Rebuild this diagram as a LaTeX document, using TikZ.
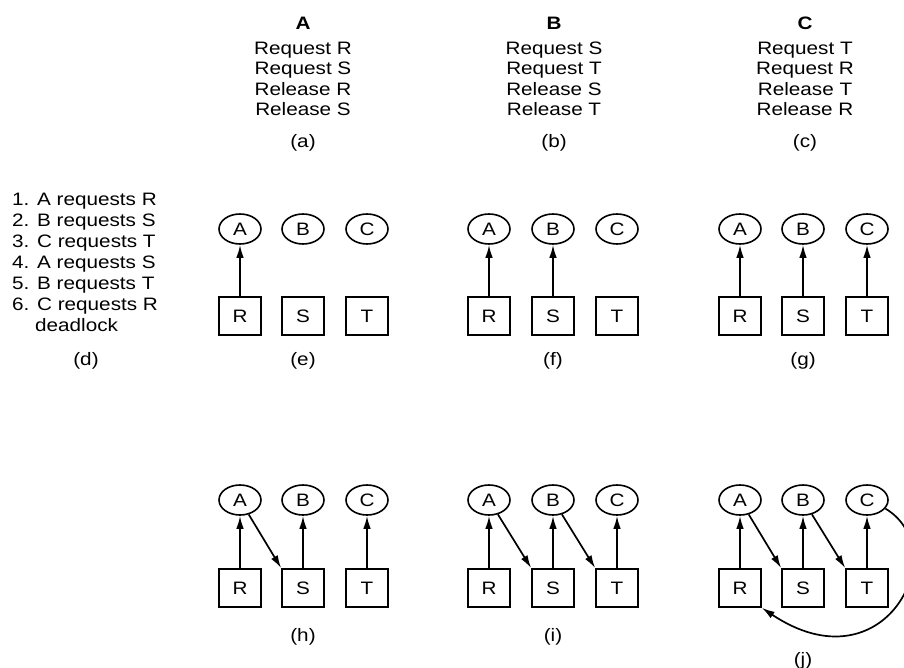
\documentclass[tikz,border=0pt]{standalone}
\usepackage{fontspec}
\setmainfont{Liberation Sans}[FakeStretch=1.15]
\usetikzlibrary{arrows.meta,shapes.geometric}

\begin{document}
\begin{tikzpicture}[x=1pt,y=1pt,
  every node/.style={font=\fontsize{18}{21}\selectfont},
  proc/.style={draw,ellipse,line width=1.6pt,minimum width=42pt,minimum height=30pt,inner sep=0pt},
  res/.style={draw,rectangle,line width=1.6pt,minimum width=42pt,minimum height=38pt,inner sep=0pt},
  txt/.style={anchor=base,inner sep=0pt},
  lst/.style={anchor=base west,inner sep=0pt},
  req/.style={-{Latex[length=13pt,width=7.5pt]},line width=1.7pt}]
\useasboundingbox (0,0) rectangle (904,-668);
% the three processes
\node[txt] (tA) at (303,-29.5) {\bfseries A};
\node[txt] (a1) at (303,-54.5) {Request R};
\node[txt] (a2) at (303,-75) {Request S};
\node[txt] (a3) at (303,-95.5) {Release R};
\node[txt] (a4) at (303,-116) {Release S};
\node[txt] (la) at (303,-148) {(a)};
\node[txt] (tB) at (554,-29.5) {\bfseries B};
\node[txt] (b1) at (554,-54.5) {Request S};
\node[txt] (b2) at (554,-75) {Request T};
\node[txt] (b3) at (554,-95.5) {Release S};
\node[txt] (b4) at (554,-116) {Release T};
\node[txt] (lb) at (554,-148) {(b)};
\node[txt] (tC) at (805,-29.5) {\bfseries C};
\node[txt] (c1) at (805,-54.5) {Request T};
\node[txt] (c2) at (805,-75) {Request R};
\node[txt] (c3) at (805,-95.5) {Release T};
\node[txt] (c4) at (805,-116) {Release R};
\node[txt] (lc) at (805,-148) {(c)};
% order of requests
\node[lst] (d1) at (12,-205.5) {1. A requests R};
\node[lst] (d2) at (12,-226.5) {2. B requests S};
\node[lst] (d3) at (12,-247.5) {3. C requests T};
\node[lst] (d4) at (12,-268.5) {4. A requests S};
\node[lst] (d5) at (12,-289.5) {5. B requests T};
\node[lst] (d6) at (12,-310) {6. C requests R};
\node[lst] (d7) at (35,-331.5) {deadlock};
\node[txt] (ld) at (86,-365) {(d)};
% (e)
\node[proc] (eA) at (240,-229) {A};
\node[proc] (eB) at (303,-229) {B};
\node[proc] (eC) at (367,-229) {C};
\node[res] (eR) at (240,-316) {R};
\node[res] (eS) at (303,-316) {S};
\node[res] (eT) at (367,-316) {T};
\node[txt] (le) at (303,-365) {(e)};
\path[req] (eR) edge (eA);
% (f)
\node[proc] (fA) at (489,-229) {A};
\node[proc] (fB) at (553,-229) {B};
\node[proc] (fC) at (617,-229) {C};
\node[res] (fR) at (489,-316) {R};
\node[res] (fS) at (553,-316) {S};
\node[res] (fT) at (617,-316) {T};
\node[txt] (lf) at (553,-365) {(f)};
\path[req] (fR) edge (fA) (fS) edge (fB);
% (g)
\node[proc] (gA) at (740,-229) {A};
\node[proc] (gB) at (803,-229) {B};
\node[proc] (gC) at (867,-229) {C};
\node[res] (gR) at (740,-316) {R};
\node[res] (gS) at (803,-316) {S};
\node[res] (gT) at (867,-316) {T};
\node[txt] (lg) at (803,-365) {(g)};
\path[req] (gR) edge (gA) (gS) edge (gB) (gT) edge (gC);
% (h)
\node[proc] (hA) at (240,-500) {A};
\node[proc] (hB) at (303,-500) {B};
\node[proc] (hC) at (367,-500) {C};
\node[res] (hR) at (240,-588) {R};
\node[res] (hS) at (303,-588) {S};
\node[res] (hT) at (367,-588) {T};
\node[txt] (lh) at (303,-641) {(h)};
\path[req] (hR) edge (hA) (hA) edge (hS.north west) (hS) edge (hB) (hT) edge (hC);
% (i)
\node[proc] (iA) at (489,-500) {A};
\node[proc] (iB) at (553,-500) {B};
\node[proc] (iC) at (617,-500) {C};
\node[res] (iR) at (489,-588) {R};
\node[res] (iS) at (553,-588) {S};
\node[res] (iT) at (617,-588) {T};
\node[txt] (li) at (553,-641) {(i)};
\path[req] (iR) edge (iA) (iA) edge (iS.north west) (iS) edge (iB);
\path[req] (iB) edge (iT.north west) (iT) edge (iC);
% (j)
\node[proc] (jA) at (740,-500) {A};
\node[proc] (jB) at (803,-500) {B};
\node[proc] (jC) at (867,-500) {C};
\node[res] (jR) at (740,-588) {R};
\node[res] (jS) at (803,-588) {S};
\node[res] (jT) at (867,-588) {T};
\node[txt] (lj) at (803,-665) {(j)};
\path[req] (jR) edge (jA) (jA) edge (jS.north west) (jS) edge (jB);
\path[req] (jB) edge (jT.north west) (jT) edge (jC);
\draw[req] (jC.-25) .. controls (955,-550) and (885,-690) .. (jR.south east);
\end{tikzpicture}
\end{document}
